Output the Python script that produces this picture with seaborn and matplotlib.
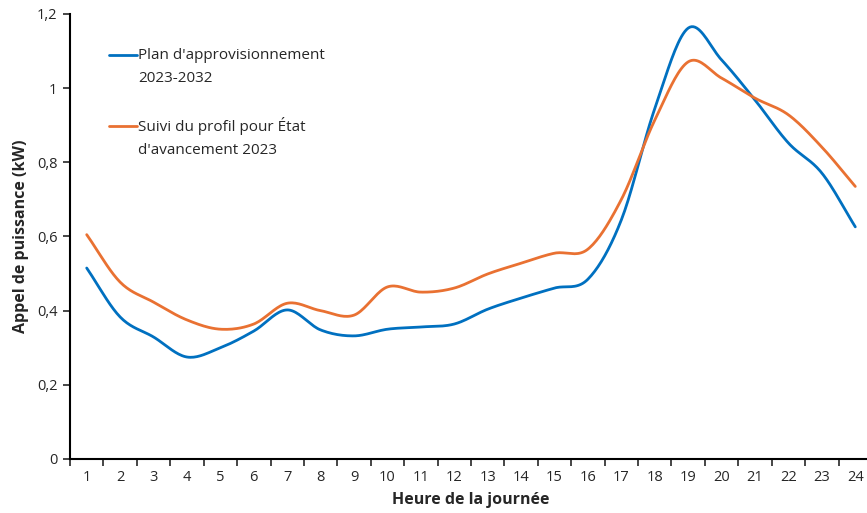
import numpy as np
import pandas as pd
import matplotlib
matplotlib.use("Agg")
import matplotlib.pyplot as plt
import seaborn as sns
from matplotlib.lines import Line2D
from matplotlib.legend_handler import HandlerLine2D
from matplotlib.ticker import FuncFormatter, MultipleLocator

hours = list(range(1, 25))
plan = [0.515, 0.383, 0.329, 0.275, 0.300, 0.345, 0.402, 0.348, 0.332, 0.350,
        0.356, 0.364, 0.404, 0.434, 0.461, 0.485, 0.645, 0.945, 1.162, 1.076,
        0.968, 0.852, 0.771, 0.626]
suivi = [0.605, 0.477, 0.423, 0.375, 0.350, 0.364, 0.420, 0.400, 0.388, 0.464,
         0.450, 0.461, 0.499, 0.528, 0.555, 0.566, 0.700, 0.914, 1.071, 1.027,
         0.973, 0.928, 0.841, 0.735]
labels = ["Plan d'approvisionnement\n2023-2032",
          "Suivi du profil pour État\nd'avancement 2023"]
colors = ["#0070C0", "#E97132"]


def smooth(x, y, n=20):
    # Catmull-Rom curve through the points, like Excel's smoothed line
    x = np.asarray(x, float)
    y = np.asarray(y, float)
    px = np.concatenate([[2 * x[0] - x[1]], x, [2 * x[-1] - x[-2]]])
    py = np.concatenate([[2 * y[0] - y[1]], y, [2 * y[-1] - y[-2]]])
    xs, ys = [], []
    t = np.linspace(0, 1, n, endpoint=False)
    for i in range(1, len(px) - 2):
        for p, out in ((px, xs), (py, ys)):
            p0, p1, p2, p3 = p[i - 1], p[i], p[i + 1], p[i + 2]
            out.extend(0.5 * (2 * p1 + (-p0 + p2) * t
                              + (2 * p0 - 5 * p1 + 4 * p2 - p3) * t ** 2
                              + (-p0 + 3 * p1 - 3 * p2 + p3) * t ** 3))
    xs.append(x[-1])
    ys.append(y[-1])
    return xs, ys


class TopLineHandler(HandlerLine2D):
    # put the legend line level with the first line of its label
    def create_artists(self, legend, orig_handle, xdescent, ydescent,
                       width, height, fontsize, trans):
        arts = super().create_artists(legend, orig_handle, xdescent, ydescent,
                                      width, height, fontsize, trans)
        for a in arts:
            a.set_ydata(np.asarray(a.get_ydata()) + 8.5)
        return arts


frames = []
for lab, vals in zip(labels, [plan, suivi]):
    sx, sy = smooth(hours, vals)
    frames.append(pd.DataFrame({"heure": sx, "kw": sy, "serie": lab}))
df = pd.concat(frames, ignore_index=True)

sns.set_style("white")
plt.rcParams["font.family"] = ["Open Sans", "DejaVu Sans"]

fig = plt.figure(figsize=(8.67, 5.13), dpi=100)
ax = fig.add_axes([70 / 867, 54 / 513, 802 / 867, 445 / 513])

sns.lineplot(data=df, x="heure", y="kw", hue="serie", palette=colors,
             linewidth=2.0, sort=False, estimator=None, ax=ax)

ax.set_xlim(0.5, 24.5)
ax.set_ylim(0, 1.2)
ax.set_xticks(hours)
ax.set_xticklabels([str(h) for h in hours])
ax.xaxis.set_minor_locator(MultipleLocator(1, offset=0.5))
ax.tick_params(axis="x", which="major", length=0, labelsize=10.5, pad=8)
ax.tick_params(axis="x", which="minor", length=5, width=1.2, direction="out",
               bottom=True)
ax.yaxis.set_major_locator(MultipleLocator(0.2))
ax.yaxis.set_major_formatter(
    FuncFormatter(lambda v, p: ("%g" % round(v, 1)).replace(".", ",")))
ax.tick_params(axis="y", length=5, width=1.2, direction="out", left=True,
               labelsize=10.5, pad=4)

for side in ["top", "right"]:
    ax.spines[side].set_visible(False)
for side in ["left", "bottom"]:
    ax.spines[side].set_color("black")
    ax.spines[side].set_linewidth(1.5)

ax.set_xlabel("Heure de la journée", fontsize=11.5, fontweight="bold",
              labelpad=5)
ax.set_ylabel("Appel de puissance (kW)", fontsize=11.5, fontweight="bold",
              labelpad=6)

handles, texts = ax.get_legend_handles_labels()
leg = ax.legend(handles, texts, loc="upper left",
                bbox_to_anchor=(0.032, 0.955), frameon=False,
                fontsize=11, handlelength=1.8, handletextpad=0.1,
                labelspacing=2.0, title=None,
                handler_map={Line2D: TopLineHandler()})
for line in leg.get_lines():
    line.set_linewidth(2.0)
for txt in leg.get_texts():
    txt.set_linespacing(1.75)

fig.savefig("out.png", dpi=100)
